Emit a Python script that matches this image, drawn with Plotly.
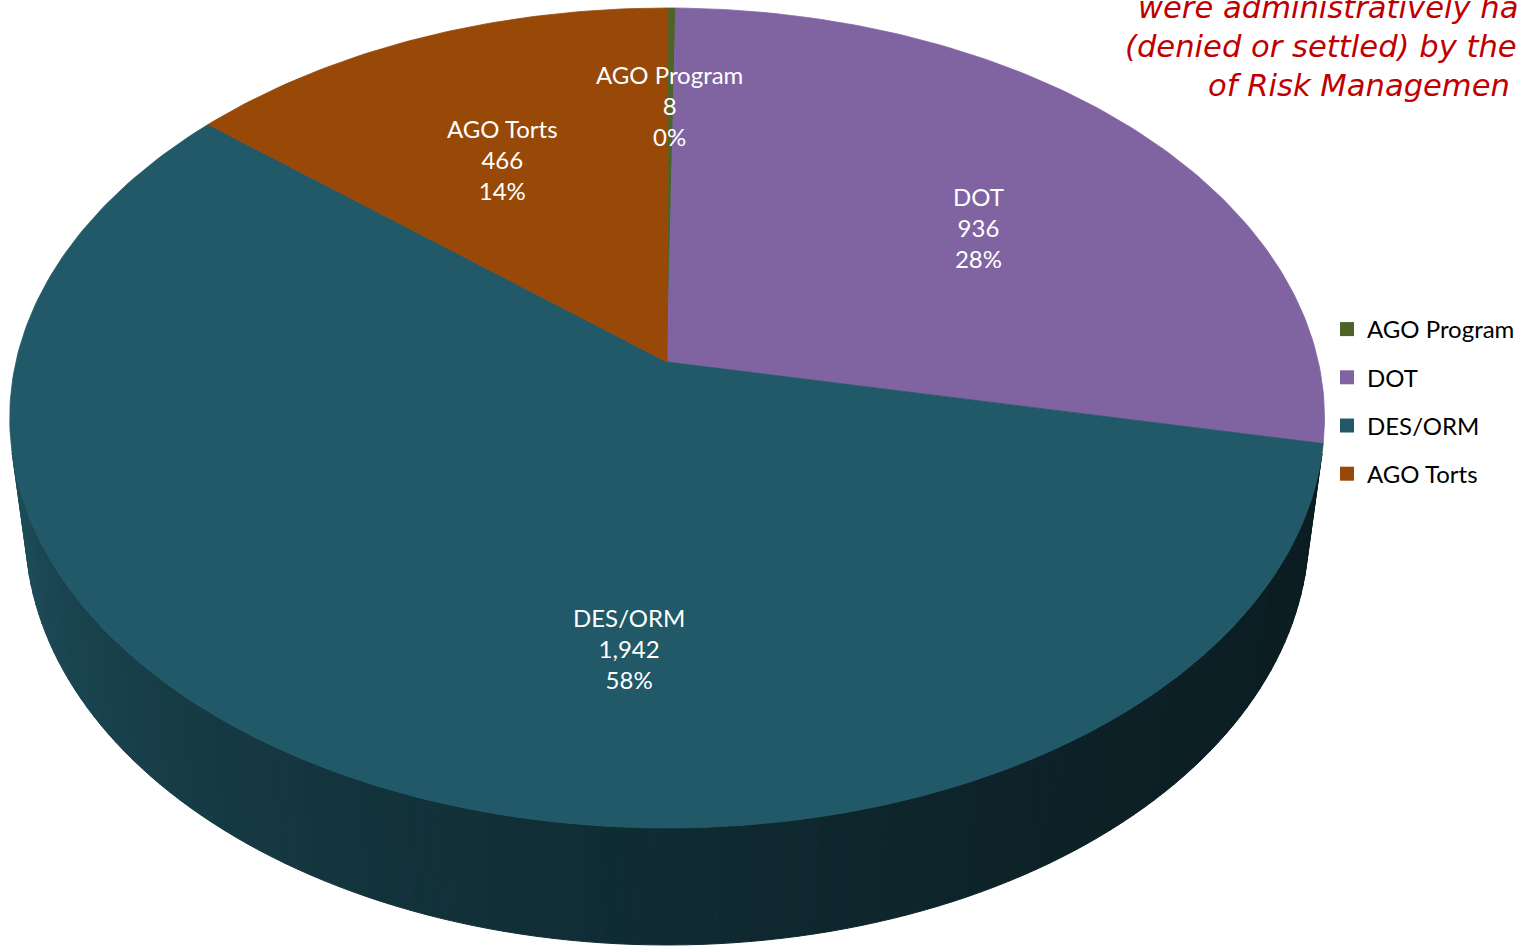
import math
import plotly.graph_objects as go

# ---------------- data ----------------
categories = ["AGO Program", "DOT", "DES/ORM", "AGO Torts"]
values = [8, 936, 1942, 466]
slice_colors = ["#4F6228", "#8064A2", "#215968", "#984807"]
title_lines = [
    "were administratively ha",
    "(denied or settled) by the",
    "of Risk Managemen",
]

# ---------------- geometry (layout) ----------------
W, H = 1520, 949               # figure size
CX, CY = 668.0, 362.0          # projected pie centre in screen pixels
ALPHA = math.radians(38.1)     # tilt
SA, CA = math.sin(ALPHA), math.cos(ALPHA)
DIST = 7.321 * CA              # camera distance (pie radius = 1)
F = 354.0 * (DIST + CA) / SA   # focal length
DEPTH = 0.2241                 # pie thickness


def proj(X, Y, Z):
    yp = Y * CA + Z * SA
    zp = Z * CA - Y * SA
    den = DIST + zp
    return CX + F * X / den, CY - F * yp / den


def hex2rgb(hx):
    hx = hx.lstrip("#")
    return tuple(int(hx[i:i + 2], 16) for i in (0, 2, 4))


def shade(hx, k):
    r, g, b = hex2rgb(hx)
    return "rgb(%d,%d,%d)" % (round(r * k), round(g * k), round(b * k))


total = float(sum(values))
bounds = []
acc = 0.0
for v in values:
    a0 = acc / total * 2 * math.pi
    acc += v
    a1 = acc / total * 2 * math.pi
    bounds.append((a0, a1))

fig = go.Figure()

# ---------------- side wall ----------------
zt = -1.0 / (DIST * CA)                 # silhouette tangent
t_start = math.acos(zt)
t_end = 2 * math.pi - t_start
NSTRIP = 120
for i in range(NSTRIP):
    t0 = t_start + (t_end - t_start) * i / NSTRIP
    t1 = t_start + (t_end - t_start) * (i + 1) / NSTRIP
    tm = 0.5 * (t0 + t1)
    idx = 0
    for j, (a0, a1) in enumerate(bounds):
        if a0 <= tm < a1:
            idx = j
    u = (tm - t_start) / (t_end - t_start)
    k = 0.32 + 0.55 * (u ** 1.8)
    col = shade(slice_colors[idx], k)
    pts = [proj(math.sin(t0), 0, math.cos(t0)), proj(math.sin(t1), 0, math.cos(t1)),
           proj(math.sin(t1), -DEPTH, math.cos(t1)), proj(math.sin(t0), -DEPTH, math.cos(t0))]
    xs = [p[0] for p in pts] + [pts[0][0]]
    ys = [p[1] for p in pts] + [pts[0][1]]
    fig.add_trace(go.Scatter(x=xs, y=ys, mode="lines", fill="toself", fillcolor=col,
                             line=dict(color=col, width=1), hoverinfo="skip", showlegend=False))

# ---------------- top slices ----------------
for cat, (a0, a1), col in zip(categories, bounds, slice_colors):
    n = max(3, int((a1 - a0) / (2 * math.pi) * 400))
    xs, ys = [CX], [CY]
    for i in range(n + 1):
        t = a0 + (a1 - a0) * i / n
        px, py = proj(math.sin(t), 0, math.cos(t))
        xs.append(px)
        ys.append(py)
    xs.append(CX)
    ys.append(CY)
    fig.add_trace(go.Scatter(x=xs, y=ys, mode="lines", fill="toself", fillcolor=col,
                             line=dict(color=col, width=0.8), name=cat,
                             hoverinfo="name", showlegend=False))

# ---------------- legend entries ----------------
for cat, col in zip(categories, slice_colors):
    fig.add_trace(go.Scatter(x=[None], y=[None], mode="markers", name=cat, legendgroup=cat,
                             marker=dict(symbol="square", size=14, color=col)))

# ---------------- data labels ----------------
label_pos = [(670, 105), (980, 227), (630, 648), (503, 159)]
annotations = []
for cat, v, (lx, ly) in zip(categories, values, label_pos):
    pct = round(v / total * 100)
    annotations.append(dict(x=lx, y=ly, xref="x", yref="y", showarrow=False,
                            text="%s<br>%s<br>%d%%" % (cat, format(v, ","), pct),
                            font=dict(family="Lato", size=24, color="white"),
                            align="center", xanchor="center", yanchor="middle"))

# ---------------- title text (cut at the top / right edge) ----------------
title_x = [1137, 1124, 1208]
title_y = [7, 46, 85]
for t, tx, ty in zip(title_lines, title_x, title_y):
    annotations.append(dict(x=tx, y=ty, xref="x", yref="y", showarrow=False, text="<i>%s</i>" % t,
                            font=dict(family="DejaVu Sans", size=30.6, color="#C00000"),
                            xanchor="left", yanchor="middle"))

fig.update_layout(
    width=W, height=H,
    margin=dict(l=0, r=0, t=0, b=0),
    paper_bgcolor="white", plot_bgcolor="white",
    xaxis=dict(range=[0, W], visible=False, fixedrange=True),
    yaxis=dict(range=[H, 0], visible=False, fixedrange=True),
    showlegend=True,
    legend=dict(x=1329 / W, y=1 - 307 / H, xanchor="left", yanchor="top",
                font=dict(family="Lato", size=24, color="black"),
                tracegroupgap=14, traceorder="grouped", bgcolor="rgba(0,0,0,0)"),
    annotations=annotations,
)

fig.write_html("out.html", config={"displayModeBar": False},
               post_script="document.body.style.margin='0px';")
